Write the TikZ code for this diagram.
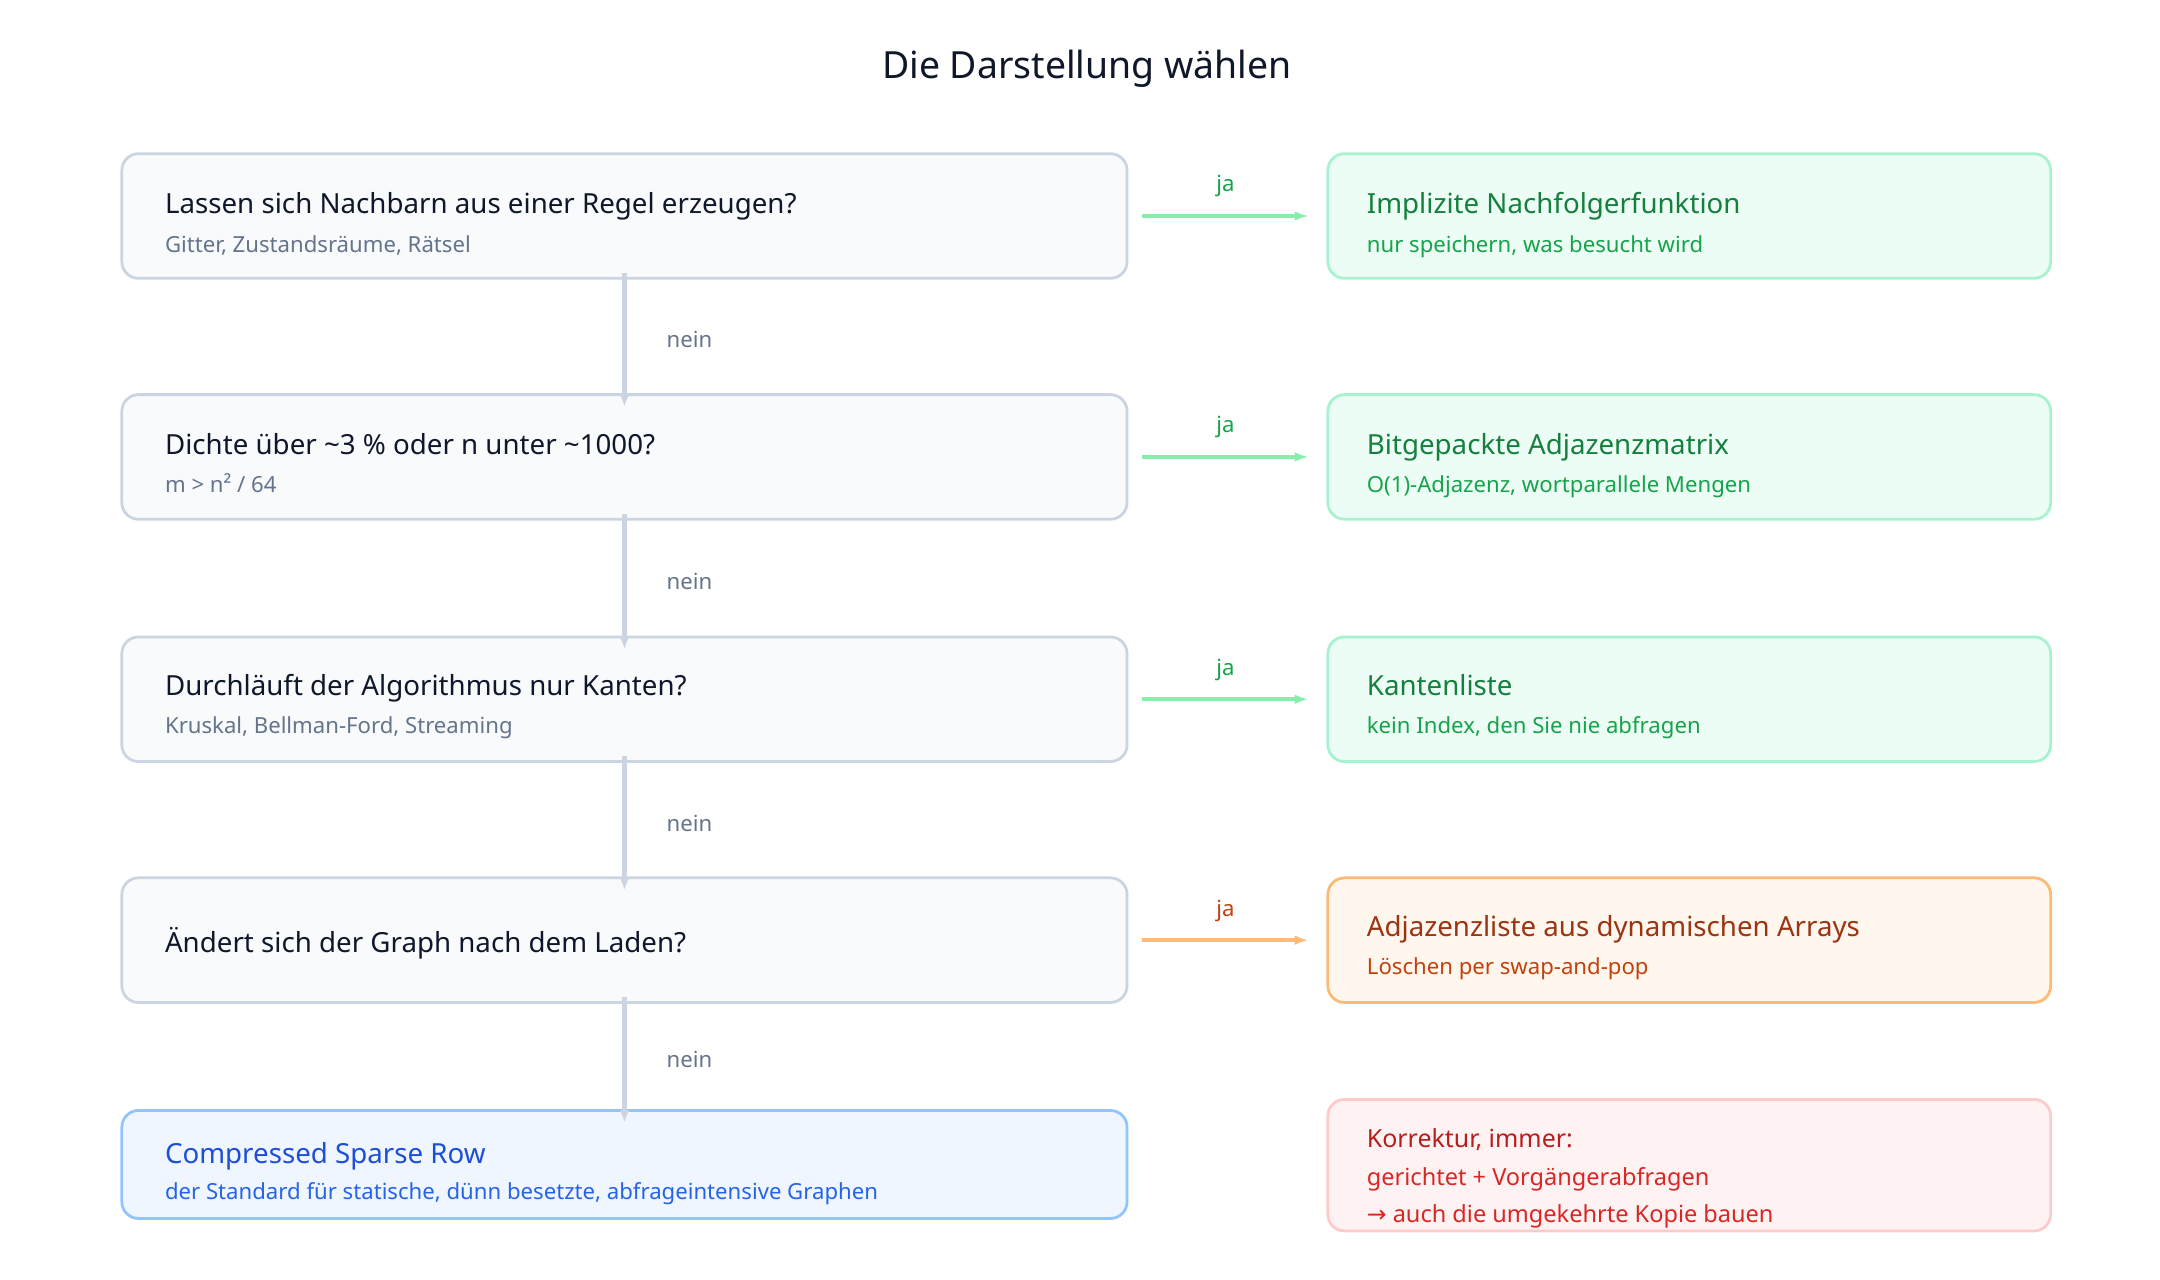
\documentclass[tikz,border=0pt]{standalone}
\usepackage{fontspec}
\setmainfont{Noto Sans}
\newfontfamily\symf{DejaVu Sans}
\usetikzlibrary{arrows.meta}
\definecolor{qfill}{HTML}{F8FAFC}\definecolor{qline}{HTML}{CBD5E1}
\definecolor{qtxt}{HTML}{0F172A}\definecolor{qsub}{HTML}{64748B}
\definecolor{gfill}{HTML}{ECFDF5}\definecolor{gline}{HTML}{A7F3D0}
\definecolor{gtxt}{HTML}{15803D}\definecolor{gsub}{HTML}{16A34A}\definecolor{garr}{HTML}{86EFAC}
\definecolor{ofill}{HTML}{FFF7ED}\definecolor{oline}{HTML}{FDBA74}
\definecolor{otxt}{HTML}{9A3412}\definecolor{osub}{HTML}{C2410C}
\definecolor{bfill}{HTML}{EFF6FF}\definecolor{bline}{HTML}{93C5FD}
\definecolor{btxt}{HTML}{1D4ED8}\definecolor{bsub}{HTML}{2563EB}
\definecolor{rfill}{HTML}{FEF2F2}\definecolor{rline}{HTML}{FECACA}
\definecolor{rtxt}{HTML}{B91C1C}\definecolor{rsub}{HTML}{DC2626}
\tikzset{
 box/.style={draw, line width=2pt, rounded corners=12pt, inner sep=0pt},
 qbox/.style={box, fill=qfill, draw=qline, minimum width=726pt, minimum height=90pt, anchor=north west},
 rbox/.style={box, minimum width=522pt, minimum height=90pt, anchor=north west},
 tt/.style={anchor=base west, inner sep=0pt, font=\fontsize{20}{24}\selectfont\bfseries},
 st/.style={anchor=base west, inner sep=0pt, font=\fontsize{16}{19}\selectfont},
 ja/.style={-{Latex[length=10pt,width=7pt]}, line width=3pt},
 nein/.style={-{Latex[length=9pt,width=7pt]}, line width=3pt, draw=qline},
 lab/.style={inner sep=0pt, font=\fontsize{16}{19}\selectfont\bfseries},
}
\begin{document}
\begin{tikzpicture}[x=1pt,y=-1pt]
\useasboundingbox[fill=white] (0,0) rectangle (1560,924);
\node[font=\fontsize{27}{32}\selectfont\bfseries, text=qtxt] (title) at (785,50) {Die Darstellung wählen};
% questions
\node[qbox] (q1) at (87,110) {};
\node[qbox] (q2) at (87,284) {};
\node[qbox] (q3) at (87,459) {};
\node[qbox] (q4) at (87,633) {};
\node[qbox, fill=bfill, draw=bline, minimum height=78pt] (csr) at (87,801) {};
\node[tt,text=qtxt] (q1t) at (119,154) {Lassen sich Nachbarn aus einer Regel erzeugen?};
\node[st,text=qsub] (q1s) at (119,182) {Gitter, Zustandsräume, Rätsel};
\node[tt,text=qtxt] (q2t) at (119,328) {Dichte über \textasciitilde3 \% oder n unter \textasciitilde1000?};
\node[st,text=qsub] (q2s) at (119,356) {m > n² / 64};
\node[tt,text=qtxt] (q3t) at (119,502) {Durchläuft der Algorithmus nur Kanten?};
\node[st,text=qsub] (q3s) at (119,530) {Kruskal, Bellman-Ford, Streaming};
\node[tt,text=qtxt] (q4t) at (119,688) {Ändert sich der Graph nach dem Laden?};
\node[tt,text=btxt] (csrt) at (119,840) {Compressed Sparse Row};
\node[st,text=bsub] (csrs) at (119,866) {der Standard für statische, dünn besetzte, abfrageintensive Graphen};
% answers
\node[rbox, fill=gfill, draw=gline] (a1) at (958,110) {};
\node[rbox, fill=gfill, draw=gline] (a2) at (958,284) {};
\node[rbox, fill=gfill, draw=gline] (a3) at (958,459) {};
\node[rbox, fill=ofill, draw=oline] (a4) at (958,633) {};
\node[rbox, fill=rfill, draw=rline, minimum height=95pt] (a5) at (958,793) {};
\node[tt,text=gtxt] (a1t) at (987,154) {Implizite Nachfolgerfunktion};
\node[st,text=gsub] (a1s) at (987,182) {nur speichern, was besucht wird};
\node[tt,text=gtxt] (a2t) at (987,328) {Bitgepackte Adjazenzmatrix};
\node[st,text=gsub] (a2s) at (987,356) {O(1)-Adjazenz, wortparallele Mengen};
\node[tt,text=gtxt] (a3t) at (987,502) {Kantenliste};
\node[st,text=gsub] (a3s) at (987,530) {kein Index, den Sie nie abfragen};
\node[tt,text=otxt] (a4t) at (987,676) {Adjazenzliste aus dynamischen Arrays};
\node[st,text=osub] (a4s) at (987,704) {Löschen per swap-and-pop};
\node[tt,text=rtxt,font=\fontsize{18}{22}\selectfont\bfseries] (a5t) at (987,829) {Korrektur, immer:};
\node[st,text=rsub,font=\fontsize{17}{20}\selectfont] (a5s) at (987,856) {gerichtet + Vorgängerabfragen};
\node[st,text=rsub,font=\fontsize{17}{20}\selectfont] (a5u) at (987,883) {{\symf →} auch die umgekehrte Kopie bauen};
% ja arrows
\foreach \i/\c/\l in {1/garr/gsub,2/garr/gsub,3/garr/gsub,4/oline/osub}{
  \draw[ja, draw=\c] ([xshift=10pt]q\i.east) -- ([xshift=-13pt]a\i.west)
    node[midway, above=12pt, lab, text=\l] {ja};
}
% nein arrows
\foreach \a/\b in {q1/q2,q2/q3,q3/q4,q4/csr}{
  \draw[nein] ([yshift=5pt]\a.south) -- ([yshift=-10pt]\b.north)
    node[midway, right=29pt, lab, text=qsub] {nein};
}
\end{tikzpicture}
\end{document}
